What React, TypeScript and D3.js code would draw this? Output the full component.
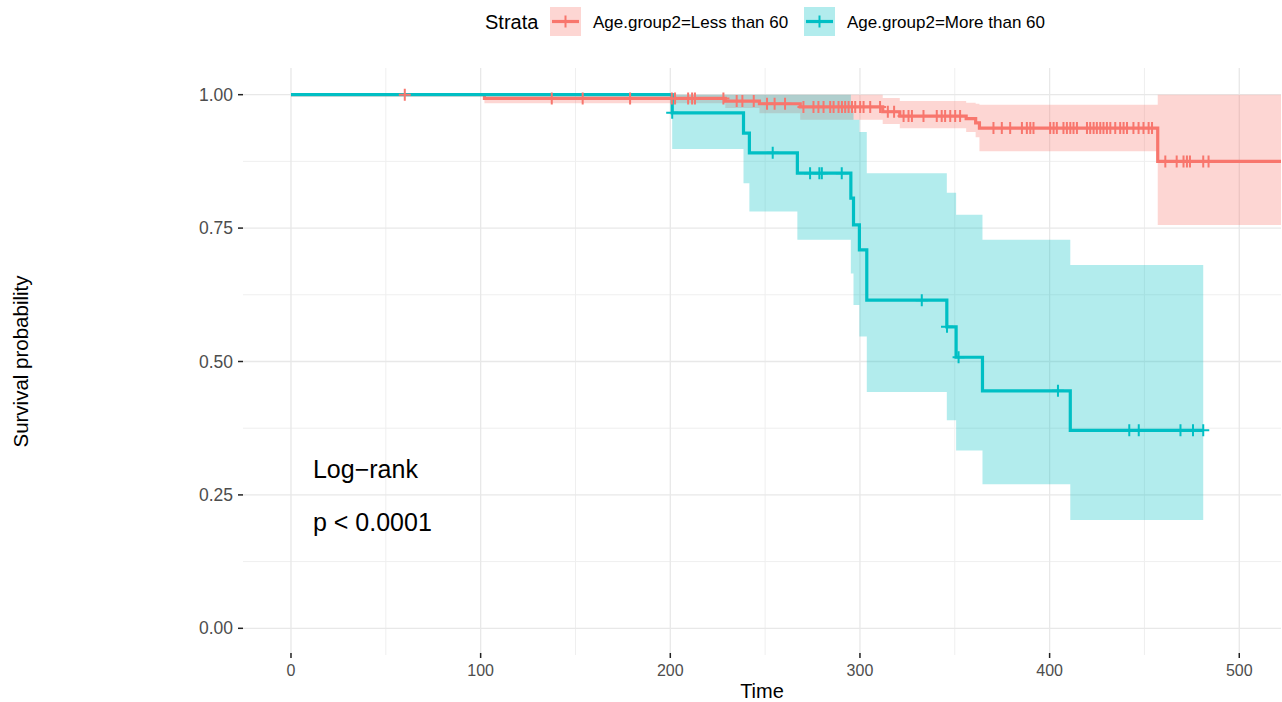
import React from 'react';
import * as d3 from 'd3';

// Kaplan-Meier step data (time, survival, 95% CI)
const lessTime = [0, 102, 229, 247, 268.5, 312, 321, 356, 361, 363, 457, 530];
const lessSurv = [1, 0.993, 0.988, 0.983, 0.977, 0.968, 0.96, 0.955, 0.947, 0.9375, 0.875, 0.875];
const lessLower = [1, 0.984, 0.975, 0.965, 0.953, 0.945, 0.937, 0.93, 0.92, 0.894, 0.756, 0.756];
const lessUpper = [1, 1, 1, 1, 1, 0.994, 0.988, 0.985, 0.983, 0.981, 1, 1];
const lessCensor = [
  60, 137.5, 153.8, 178.8, 200.8, 202.5, 209.4, 211.5, 213, 228, 235, 238, 244, 251, 255, 260.5,
  270.2, 275.5, 278.1, 280.8, 284.3, 286.1, 288.7, 290.5, 292.2, 294, 295.8, 297.5, 300.1, 301.9,
  305.4, 310.6, 314.7, 318, 323, 325.6, 327.4, 333.5, 340.5, 343.1, 344.9, 347.6, 350.2, 352.8,
  370.4, 374.8, 379.2, 385.4, 388, 389.8, 391.5, 400.3, 402.1, 403.8, 407.3, 409.1, 410.9, 412.6,
  414.4, 419.7, 421.4, 423.2, 424.9, 426.7, 428.4, 430.2, 432, 434.6, 437.2, 439, 440.8, 444.2,
  446.9, 449.5, 452.2, 454, 461, 467, 470.6, 472.4, 474, 481, 483.8,
];

const moreTime = [0, 201, 238.6, 241.7, 267, 295.2, 296.6, 299.7, 303.6, 345.8, 350.7, 364.6, 410.9, 481];
const moreSurv = [1, 0.966, 0.928, 0.891, 0.853, 0.806, 0.756, 0.709, 0.615, 0.565, 0.508, 0.445, 0.371, 0.371];
const moreLower = [1, 0.898, 0.834, 0.781, 0.728, 0.665, 0.606, 0.547, 0.443, 0.39, 0.333, 0.27, 0.203, 0.203];
const moreUpper = [1, 1, 1, 1, 1, 0.97, 0.953, 0.93, 0.853, 0.816, 0.775, 0.728, 0.681, 0.681];
const moreCensor = [201, 254, 273.7, 278.6, 279.9, 290.4, 332.6, 345.9, 352, 404.4, 442, 447, 469, 475.6, 481];

const xTicks = [0, 100, 200, 300, 400, 500];
const xMinor = [50, 150, 250, 350, 450];
const yTicks = [0, 0.25, 0.5, 0.75, 1];
const yMinor = [0.125, 0.375, 0.625, 0.875];

const strata = [
  { name: 'Age.group2=Less than 60', color: '#F8766D', time: lessTime, surv: lessSurv, lower: lessLower, upper: lessUpper, censor: lessCensor },
  { name: 'Age.group2=More than 60', color: '#00BFC4', time: moreTime, surv: moreSurv, lower: moreLower, upper: moreUpper, censor: moreCensor },
];

const W = 1282;
const H = 702;
const panel = { left: 243, right: 1281, top: 68, bottom: 655 };
const font = '"Liberation Sans", Arial, sans-serif';

const x = d3.scaleLinear().domain([-25.3, 522]).range([panel.left, panel.right]);
const y = d3.scaleLinear().domain([-0.05, 1.05]).range([panel.bottom, panel.top]);

type Pt = { t: number; s: number; lo: number; hi: number };

// survival value of a step curve at time t
const stepAt = (times: number[], vals: number[], t: number) => {
  let v = vals[0];
  times.forEach((tt, i) => { if (tt <= t) v = vals[i]; });
  return v;
};

const line = d3.line<Pt>().x(d => x(d.t)).y(d => y(d.s)).curve(d3.curveStepAfter);
const area = d3.area<Pt>().x(d => x(d.t)).y0(d => y(d.lo)).y1(d => y(d.hi)).curve(d3.curveStepAfter);

const Cross = ({ cx, cy, color }: { cx: number; cy: number; color: string }) => (
  <path d={`M${cx - 6},${cy}H${cx + 6}M${cx},${cy - 6}V${cy + 6}`} stroke={color} strokeWidth={2} fill="none" />
);

export default function App() {
  const series = strata.map(s => ({
    ...s,
    pts: s.time.map((t, i) => ({ t, s: s.surv[i], lo: s.lower[i], hi: s.upper[i] })),
  }));

  return (
    <svg width={W} height={H} style={{ position: 'absolute', left: 0, top: 0, background: '#fff' }} fontFamily={font}>
      <defs>
        <clipPath id="panel">
          <rect x={panel.left} y={panel.top} width={panel.right - panel.left} height={panel.bottom - panel.top} />
        </clipPath>
      </defs>

      {/* grid */}
      {yMinor.map(v => (
        <line key={'ym' + v} x1={panel.left} x2={panel.right} y1={y(v)} y2={y(v)} stroke="#efefef" strokeWidth={1} />
      ))}
      {xMinor.map(v => (
        <line key={'xm' + v} x1={x(v)} x2={x(v)} y1={panel.top} y2={panel.bottom} stroke="#efefef" strokeWidth={1} />
      ))}
      {yTicks.map(v => (
        <line key={'yg' + v} x1={panel.left} x2={panel.right} y1={y(v)} y2={y(v)} stroke="#e8e8e8" strokeWidth={1.3} />
      ))}
      {xTicks.map(v => (
        <line key={'xg' + v} x1={x(v)} x2={x(v)} y1={panel.top} y2={panel.bottom} stroke="#e8e8e8" strokeWidth={1.3} />
      ))}

      <g clipPath="url(#panel)">
        {series.map(s => (
          <path key={'band' + s.name} d={area(s.pts) || ''} fill={s.color} fillOpacity={0.3} stroke="none" />
        ))}
        {series.map(s => (
          <path key={'line' + s.name} d={line(s.pts) || ''} fill="none" stroke={s.color} strokeWidth={3.2} />
        ))}
        {series.map(s =>
          s.censor.map((t, i) => (
            <Cross key={s.name + i} cx={x(t)} cy={y(stepAt(s.time, s.surv, t))} color={s.color} />
          ))
        )}
      </g>

      {/* y axis */}
      {yTicks.map(v => (
        <g key={'yt' + v}>
          <line x1={panel.left - 5} x2={panel.left} y1={y(v)} y2={y(v)} stroke="#222" strokeWidth={1.5} />
          <text x={panel.left - 10} y={y(v)} dy="0.35em" textAnchor="end" fontSize={17.5} fill="#4d4d4d">
            {d3.format('.2f')(v)}
          </text>
        </g>
      ))}
      {/* x axis */}
      {xTicks.map(v => (
        <g key={'xt' + v}>
          <line x1={x(v)} x2={x(v)} y1={panel.bottom - 2} y2={panel.bottom + 3} stroke="#222" strokeWidth={1.5} />
          <text x={x(v)} y={676} textAnchor="middle" fontSize={16} fill="#4d4d4d">
            {v}
          </text>
        </g>
      ))}

      <text x={(panel.left + panel.right) / 2} y={698} textAnchor="middle" fontSize={20} fill="#000">Time</text>
      <text transform={`translate(28, ${(panel.top + panel.bottom) / 2}) rotate(-90)`} textAnchor="middle" fontSize={20.5} fill="#000">
        Survival probability
      </text>

      {/* log-rank annotation */}
      <text x={x(11.6)} y={y(0.282)} fontSize={25} fill="#000">Log−rank</text>
      <text x={x(11.6)} y={y(0.183)} fontSize={25} fill="#000">p &lt; 0.0001</text>

      {/* legend */}
      <text x={485} y={22} dy="0.35em" fontSize={20} fill="#000">Strata</text>
      {series.map((s, i) => {
        const kx = i === 0 ? 550 : 804;
        return (
          <g key={'lg' + s.name}>
            <rect x={kx} y={7} width={31} height={29} fill={s.color} fillOpacity={0.3} />
            <line x1={kx + 2} x2={kx + 29} y1={21.5} y2={21.5} stroke={s.color} strokeWidth={3.2} />
            <Cross cx={kx + 15.5} cy={21.5} color={s.color} />
            <text x={kx + 43} y={22} dy="0.35em" fontSize={17} fill="#000">{s.name}</text>
          </g>
        );
      })}
    </svg>
  );
}
